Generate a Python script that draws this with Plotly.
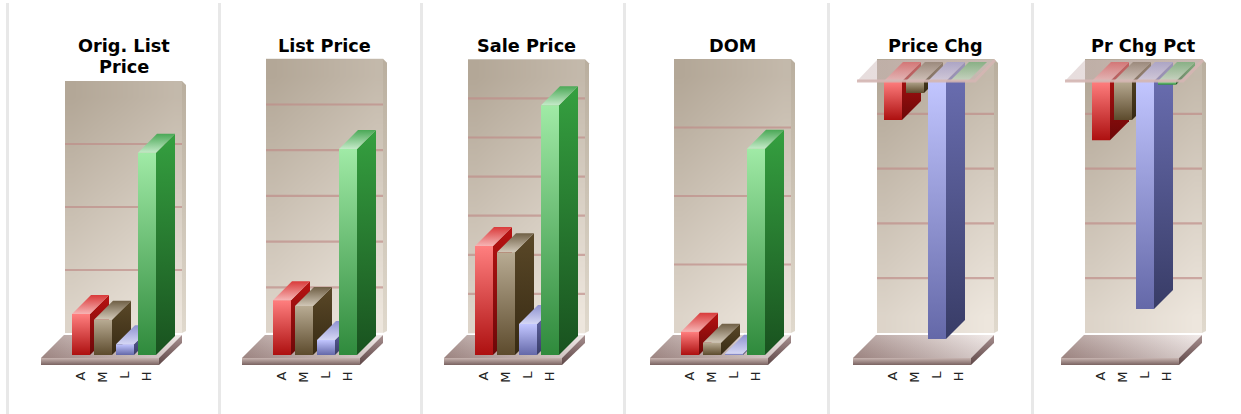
import numpy as np
import plotly.graph_objects as go

WIDTH, HEIGHT = 1241, 414

categories = ["A", "M", "L", "H"]
title_lines = [["Orig. List", "Price"], ["List Price"], ["Sale Price"], ["DOM"], ["Price Chg"], ["Pr Chg Pct"]]

orig_list_price = [65, 56, 17, 321]
list_price = [120, 107, 33, 451]
sale_price = [279, 263, 79, 639]
dom = [34, 18, 2, 301]
price_chg = [-71, -22, -471, 0]
pr_chg_pct = [-108, -71, -416, -7]
panel_values = [orig_list_price, list_price, sale_price, dom, price_chg, pr_chg_pct]

# wall extent in value units (grid step is 100)
wall_low = [0, 0, 0, 0, -500, -500]
wall_high = [400, 600, 700, 400, 0, 0]
grid_step = 100

# ---------- layout (pixels) ----------
floor_left = [41, 242, 444, 650, 853, 1061]
separators = [7.5, 219.5, 421.5, 624.5, 828.5, 1032.5]
tick_px = [63, 45.7, 39.1, 68.5, 54.8, 54.8]
AXIS_BOTTOM = 368
BAR_W, BAR_STEP, BAR_START = 18, 22, 31
DX, DY = 19, 19
WALL_IN, WALL_W = 24, 117
FLOOR_W, FLOOR_D = 118, 23
WALL_LIFT = 22

FONT = "DejaVu Sans"

BAR_COLORS = {
    "A": dict(front=("#ff7f7f", "#ad1010"), side=("#b81212", "#6c0808"), top=("#d93a3a", "#f6b4b4")),
    "M": dict(front=("#b8ab93", "#5d4b2d"), side=("#5a4828", "#372a13"), top=("#6f5f45", "#d2c8b8")),
    "L": dict(front=("#c2c6ff", "#6468a8"), side=("#6c70b4", "#383c66"), top=("#8f93d0", "#d5d7f5")),
    "H": dict(front=("#a0eaa6", "#2f8a3c"), side=("#35a040", "#19521f"), top=("#4aa856", "#c4eac8")),
}

fig = go.Figure()


def poly(xa, ya, xs, ys, grad, kind="vertical"):
    """One filled face with a gradient. grad = (start colour, stop colour)."""
    vals = ys if kind == "vertical" else xs
    a, b = grad
    if kind == "vertical":
        scale = [[0, b], [1, a]]  # bottom to top
    else:
        scale = [[0, a], [1, b]]
    fig.add_trace(go.Scatter(
        x=list(xs) + [xs[0]], y=list(ys) + [ys[0]], xaxis=xa, yaxis=ya, mode="lines",
        line=dict(width=0), fill="toself", showlegend=False, hoverinfo="skip",
        fillgradient=dict(type=kind, colorscale=scale, start=min(vals), stop=max(vals)),
    ))


for p, values in enumerate(panel_values):
    n = "" if p == 0 else str(p + 1)
    xa, ya = "x" + n, "y" + n
    x0 = floor_left[p]
    k = tick_px[p] / grid_step
    c0 = x0 + BAR_START + BAR_W / 2  # pixel of category 0

    def X(px_from_floor):
        return (x0 + px_from_floor - c0) / BAR_STEP

    def Yoff(v, up_px=0):
        return v + up_px / k

    low, high = wall_low[p], wall_high[p]
    negative = high == 0
    baseline = low  # value at the floor level

    # wall
    wl, wr = X(WALL_IN), X(WALL_IN + WALL_W)
    wb, wt = Yoff(low, WALL_LIFT), Yoff(high, WALL_LIFT)
    m = 8
    xe = np.linspace(wl, wr, m + 1)
    ye = np.linspace(wb, wt, m + 1)
    fy, fx = np.meshgrid(np.linspace(0, 1, m), np.linspace(0, 1, m), indexing="ij")
    z = 0.72 * (1 - fy) + 0.28 * fx
    fig.add_trace(go.Heatmap(
        x=xe, y=ye, z=z, xaxis=xa, yaxis=ya, zsmooth="best", showscale=False, hoverinfo="skip",
        zmin=0, zmax=1, colorscale=[[0, "#b3a797"], [1, "#ede6dd"]],
    ))
    # wall side strip
    s = 4 / BAR_STEP
    poly(xa, ya, [wr, wr + s, wr + s, wr],
         [wt, wt - 4 / k, wb + 2 / k, wb], ("#b9ae9e", "#e0d9cd"))
    # grid lines
    gv = np.arange(low + grid_step, high, grid_step)
    for g in gv:
        fig.add_trace(go.Scatter(
            x=[wl, wr], y=[Yoff(g, WALL_LIFT)] * 2, xaxis=xa, yaxis=ya, mode="lines",
            line=dict(width=2.2, color="rgba(190,140,135,0.68)"), showlegend=False, hoverinfo="skip",
        ))

    # floor
    fy0 = Yoff(baseline, -3)
    fy1 = Yoff(baseline, FLOOR_D - 3)
    fx0, fx1 = X(0), X(FLOOR_W)
    fd = FLOOR_D / BAR_STEP
    floor_x = [fx0, fx1, fx1 + fd, fx0 + fd]
    floor_y = [fy0, fy0, fy1, fy1]
    poly(xa, ya, floor_x, floor_y, ("#a48c88", "#efe7e5"), "horizontal")
    poly(xa, ya, floor_x, floor_y, ("rgba(255,255,255,0.18)", "rgba(110,85,85,0.16)"))
    poly(xa, ya, [fx0, fx1, fx1, fx0], [fy0, fy0, Yoff(baseline, -10), Yoff(baseline, -10)], ("#c7b4b0", "#7a6361"))
    poly(xa, ya, [fx1, fx1 + fd, fx1 + fd, fx1],
         [fy0, fy1, Yoff(baseline, FLOOR_D - 11), Yoff(baseline, -10)], ("#a89090", "#5f4848"))

    # bars
    bw, dx = BAR_W / BAR_STEP, DX / BAR_STEP
    for i, (cat, v) in enumerate(zip(categories, values)):
        col = BAR_COLORS[cat]
        l, r = i - bw / 2, i + bw / 2
        up = Yoff(0 if v < 0 or negative else v)
        dn = Yoff(v if v < 0 or negative else 0)
        if negative or v > 0:
            if up != dn:
                poly(xa, ya, [r, r + dx, r + dx, r],
                     [up, Yoff(up, DY), Yoff(dn, DY), dn], col["side"])
            poly(xa, ya, [l, r, r + dx, l + dx],
                 [up, up, Yoff(up, DY), Yoff(up, DY)], col["top"])
            if up != dn:
                poly(xa, ya, [l, r, r, l], [up, up, dn, dn], col["front"])

    # zero plane for panels that hang from zero
    if negative:
        px0, px1 = X(4), X(4 + FLOOR_W)
        pd = 20 / BAR_STEP
        poly(xa, ya, [px0, px1, px1 + pd, px0 + pd],
             [Yoff(0), Yoff(0), Yoff(0, 21), Yoff(0, 21)],
             ("rgba(205,185,185,0.48)", "rgba(205,185,185,0.48)"))
        fig.add_trace(go.Scatter(
            x=[px0, px1, px1 + pd], y=[Yoff(0), Yoff(0), Yoff(0, 21)], xaxis=xa, yaxis=ya, mode="lines",
            line=dict(width=3, color="rgba(212,182,178,0.9)"), showlegend=False, hoverinfo="skip",
        ))

    # axes
    dl, dr = separators[p] + 2, (separators[p + 1] - 2 if p < 5 else 1240)
    base = 81 if negative else 355
    fig.update_layout({
        "xaxis" + n: dict(
            domain=[dl / WIDTH, dr / WIDTH], range=[(dl - c0) / BAR_STEP, (dr - c0) / BAR_STEP],
            tickmode="array", tickvals=list(range(len(categories))), ticktext=categories, tickangle=-90,
            tickfont=dict(family=FONT, size=13, color="#222222"), showgrid=False, zeroline=False,
            showline=False, ticks="", anchor=ya,
        ),
        "yaxis" + n: dict(
            domain=[(HEIGHT - AXIS_BOTTOM) / HEIGHT, 1],
            range=[(base - AXIS_BOTTOM) / k, base / k],
            showgrid=False, zeroline=False, showline=False, showticklabels=False, ticks="", anchor=xa,
        ),
    })

    # title, one annotation per line for the tight line spacing
    title_mid = x0 + WALL_IN + 58.5
    for li, line in enumerate(title_lines[p]):
        fig.add_annotation(
            xref="paper", yref="paper", x=title_mid / WIDTH, y=1 - (46 + 21 * li) / HEIGHT,
            yanchor="middle", xanchor="center", text="<b>" + line + "</b>", showarrow=False,
            font=dict(family=FONT, size=17.7, color="#000000"),
        )

shapes = [dict(type="line", xref="paper", yref="paper", x0=s / WIDTH, x1=s / WIDTH, y0=0, y1=1 - 3 / HEIGHT,
               line=dict(color="#e8e8e8", width=3)) for s in separators]
fig.update_layout(
    width=WIDTH, height=HEIGHT, margin=dict(l=0, r=0, t=0, b=0), paper_bgcolor="white", plot_bgcolor="white",
    showlegend=False, shapes=shapes,
)
fig.write_html("out.html", config={"displayModeBar": False}, post_script="document.body.style.margin='0';")
